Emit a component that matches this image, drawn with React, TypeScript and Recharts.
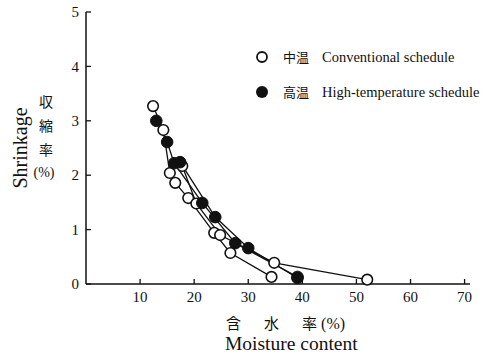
import { ComposedChart, Line, XAxis, YAxis } from "recharts";

// 中温 (conventional schedule) – two runs
const conv1X = [12.4, 14.3, 15.5, 16.5, 18.9, 23.7, 26.7, 34.3];
const conv1Y = [3.27, 2.83, 2.04, 1.86, 1.58, 0.94, 0.57, 0.13];
const conv2X = [17.8, 20.4, 24.8, 34.8, 52.0];
const conv2Y = [2.17, 1.48, 0.9, 0.39, 0.08];

// 高温 (high-temperature schedule) – two runs
const high1X = [13.0, 15.0, 16.3, 21.5, 27.6, 39.1];
const high1Y = [3.0, 2.61, 2.22, 1.49, 0.75, 0.13];
const high2X = [17.4, 23.9, 30.0, 39.1];
const high2Y = [2.24, 1.23, 0.66, 0.11];

const xTicks = [10, 20, 30, 40, 50, 60, 70];
const yTicks = [0, 1, 2, 3, 4, 5];

const zip = (xs: number[], ys: number[]) => xs.map((x, i) => ({ x, y: ys[i] }));

const SERIF = "'Liberation Serif', 'Times New Roman', serif";
const CJK = "'Noto Sans CJK JP', sans-serif";
const INK = "#111";

const YTick = (props: any) => {
  const { x, y, payload } = props;
  return (
    <g>
      <line x1={x + 7} x2={x + 12} y1={y} y2={y} stroke={INK} strokeWidth={1.3} />
      <text x={x} y={y} dy="0.35em" textAnchor="end" fontFamily={SERIF} fontSize={15} fill={INK}>
        {payload.value}
      </text>
    </g>
  );
};

const XTick = (props: any) => {
  const { x, y, payload } = props;
  return (
    <g>
      <line x1={x} x2={x} y1={y - 6} y2={y - 11} stroke={INK} strokeWidth={1.3} />
      <text x={x} y={y} dy="0.78em" textAnchor="middle" fontFamily={SERIF} fontSize={15} fill={INK}>
        {payload.value}
      </text>
    </g>
  );
};

const openDot = { r: 5.3, fill: "#fff", stroke: INK, strokeWidth: 1.6 };
const fullDot = { r: 5.8, fill: INK, stroke: INK, strokeWidth: 1 };

export default function App() {
  return (
    <div style={{ position: "relative", width: 492, height: 360, background: "#fff" }}>
      <style>{`body{margin:0}`}</style>
      <ComposedChart
        width={492}
        height={360}
        margin={{ top: 12, right: 22, bottom: 46, left: 56 }}
      >
        <XAxis
          type="number"
          dataKey="x"
          domain={[0, 71]}
          ticks={xTicks}
          tick={<XTick />}
          tickLine={false}
          tickSize={0}
          tickMargin={6}
          height={30}
          axisLine={{ stroke: INK, strokeWidth: 1.5 }}
          allowDuplicatedCategory={false}
        />
        <YAxis
          type="number"
          dataKey="y"
          domain={[0, 5]}
          ticks={yTicks}
          tick={<YTick />}
          tickLine={false}
          tickSize={0}
          tickMargin={7}
          width={30}
          axisLine={{ stroke: INK, strokeWidth: 1.5 }}
        />
        <Line data={zip(conv1X, conv1Y)} dataKey="y" stroke={INK} strokeWidth={1.3} dot={openDot} isAnimationActive={false} />
        <Line data={zip(conv2X, conv2Y)} dataKey="y" stroke={INK} strokeWidth={1.3} dot={openDot} isAnimationActive={false} />
        <Line data={zip(high1X, high1Y)} dataKey="y" stroke={INK} strokeWidth={1.3} dot={fullDot} isAnimationActive={false} />
        <Line data={zip(high2X, high2Y)} dataKey="y" stroke={INK} strokeWidth={1.3} dot={fullDot} isAnimationActive={false} />
      </ComposedChart>

      {/* legend */}
      <div style={{ position: "absolute", left: 255, top: 48, fontSize: 13, color: INK, lineHeight: "18px" }}>
        <div style={{ display: "flex", alignItems: "center", height: 18 }}>
          <svg width={14} height={14}><circle cx={7} cy={7} r={5} fill="#fff" stroke={INK} strokeWidth={1.8} /></svg>
          <span style={{ fontFamily: CJK, marginLeft: 14 }}>中温</span>
          <span style={{ fontFamily: SERIF, marginLeft: 13, fontSize: 14.5 }}>Conventional schedule</span>
        </div>
        <div style={{ display: "flex", alignItems: "center", height: 18, marginTop: 17 }}>
          <svg width={14} height={14}><circle cx={7} cy={7} r={6} fill={INK} /></svg>
          <span style={{ fontFamily: CJK, marginLeft: 14 }}>高温</span>
          <span style={{ fontFamily: SERIF, marginLeft: 13, fontSize: 14.5 }}>High-temperature schedule</span>
        </div>
      </div>

      {/* y axis titles */}
      <div
        style={{
          position: "absolute",
          left: 20,
          top: 148,
          transform: "translate(-50%, -50%) rotate(-90deg)",
          fontFamily: SERIF,
          fontSize: 20,
          color: INK,
          whiteSpace: "nowrap",
        }}
      >
        Shrinkage
      </div>
      <div
        style={{
          position: "absolute",
          left: 36,
          top: 89,
          width: 20,
          fontFamily: CJK,
          fontSize: 14,
          color: INK,
          textAlign: "center",
          lineHeight: "24px",
        }}
      >
        <div>収</div>
        <div>縮</div>
        <div>率</div>
        <div style={{ fontFamily: SERIF, whiteSpace: "nowrap", marginLeft: -4 }}>(%)</div>
      </div>

      {/* x axis titles */}
      <div
        style={{
          position: "absolute",
          left: 226,
          top: 312,
          fontFamily: CJK,
          fontSize: 15,
          color: INK,
          whiteSpace: "nowrap",
        }}
      >
        <span>含</span>
        <span style={{ marginLeft: 23 }}>水</span>
        <span style={{ marginLeft: 23 }}>率</span>
        <span style={{ fontFamily: SERIF, marginLeft: 4, fontSize: 16 }}>(%)</span>
      </div>
      <div
        style={{
          position: "absolute",
          left: 225,
          top: 333,
          fontFamily: SERIF,
          fontSize: 19.5,
          color: INK,
          whiteSpace: "nowrap",
        }}
      >
        Moisture content
      </div>
    </div>
  );
}
